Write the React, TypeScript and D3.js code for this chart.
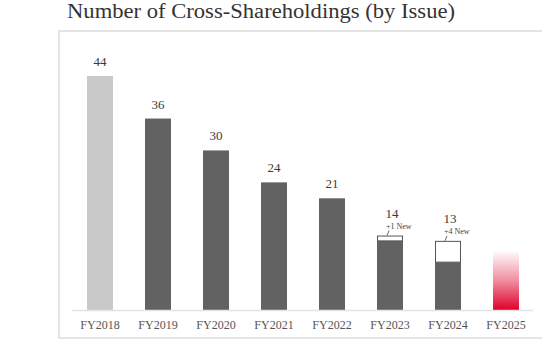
import React from "react";
import * as d3 from "d3";

const categories = ["FY2018", "FY2019", "FY2020", "FY2021", "FY2022", "FY2023", "FY2024", "FY2025"];
const totals = [44, 36, 30, 24, 21, 14, 13, 11];
const newHoldings = [0, 0, 0, 0, 0, 1, 4, 0];
const valueLabels = ["44", "36", "30", "24", "21", "14", "13", ""];
const newLabels = ["", "", "", "", "", "+1 New", "+4 New", ""];
const title = "Number of Cross-Shareholdings (by Issue)";

const W = 542;
const H = 355;

export default function App() {
  const x = d3.scaleBand().domain(categories).range([71, 535]).paddingInner(0.552).paddingOuter(0.276);
  const y = d3.scaleLinear().domain([0, 44]).range([310, 76]);
  const bw = x.bandwidth();
  const font = "'Liberation Serif', 'DejaVu Serif', serif";
  return (
    <svg width={W} height={H} style={{ position: "absolute", left: 0, top: 0, background: "#fff" }}>
      <defs>
        <linearGradient id="redGrad" x1="0" y1="0" x2="0" y2="1">
          <stop offset="0" stopColor="#e0002a" stopOpacity={0.02} />
          <stop offset="0.5" stopColor="#e0002a" stopOpacity={0.45} />
          <stop offset="1" stopColor="#e0002a" stopOpacity={1} />
        </linearGradient>
      </defs>
      <text x={67} y={18} fontFamily={font} fontSize={20} fill="#333" textLength={388} lengthAdjust="spacingAndGlyphs">
        {title}
      </text>
      <rect x={59} y={31} width={W - 58} height={307} fill="none" stroke="#dcdcdc" strokeWidth={1.5} />
      {categories.map((c, i) => {
        const x0 = x(c)!;
        const cx = x0 + bw / 2;
        const total = totals[i];
        const nw = newHoldings[i];
        const isLast = i === categories.length - 1;
        const fill = i === 0 ? "#c9c9c9" : "#626262";
        return (
          <g key={c}>
            {isLast ? (
              <rect x={x0} y={y(total)} width={bw} height={y(0) - y(total)} fill="url(#redGrad)" />
            ) : (
              <>
                <rect x={x0} y={y(total - nw)} width={bw} height={y(0) - y(total - nw)} fill={fill} />
                {nw > 0 && (
                  <rect x={x0 + 0.5} y={y(total) + 0.5} width={bw - 1} height={y(total - nw) - y(total) - 0.5}
                    fill="#fff" stroke="#555" strokeWidth={1} />
                )}
              </>
            )}
            {valueLabels[i] && (
              <text x={cx + (nw > 0 ? 2 : 0)} y={y(total) - (nw > 0 ? 18 : 10)} textAnchor="middle"
                fontFamily={font} fontSize={13} fill="#3a3a3a">
                {valueLabels[i]}
              </text>
            )}
            {newLabels[i] && (
              <>
                <text x={cx - 4} y={y(total) - 6.5} fontFamily={font} fontSize={8} fill="#444">
                  {newLabels[i]}
                </text>
                <line x1={cx - 1} y1={y(total) - 5} x2={cx - 3} y2={y(total)} stroke="#444" strokeWidth={0.8} />
              </>
            )}
            <text x={cx} y={329} textAnchor="middle" fontFamily={font} fontSize={12} fill="#555">
              {c}
            </text>
          </g>
        );
      })}
      <line x1={72} x2={533} y1={310.5} y2={310.5} stroke="#e4e4e4" strokeWidth={1.5} />
    </svg>
  );
}
